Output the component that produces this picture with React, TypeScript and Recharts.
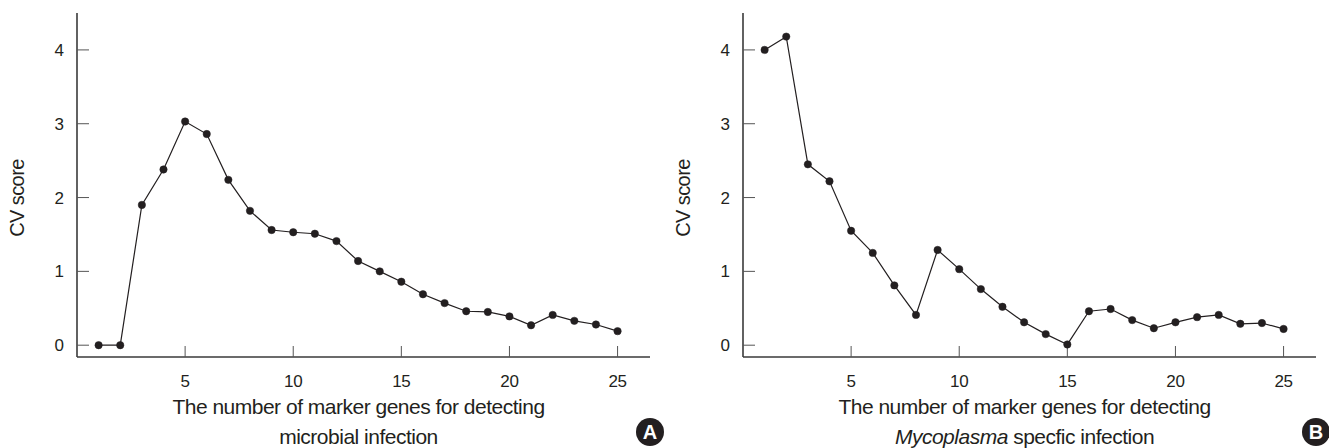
import React from 'react';
import { LineChart, Line, XAxis, YAxis, Label } from 'recharts';

const markerCounts = [1, 2, 3, 4, 5, 6, 7, 8, 9, 10, 11, 12, 13, 14, 15, 16, 17, 18, 19, 20, 21, 22, 23, 24, 25];
const microbialScores = [0, 0, 1.9, 2.38, 3.03, 2.86, 2.24, 1.82, 1.56, 1.53, 1.51, 1.41, 1.14, 1.0, 0.86, 0.69, 0.57, 0.46, 0.45, 0.39, 0.27, 0.41, 0.33, 0.28, 0.19];
const mycoplasmaScores = [4.0, 4.18, 2.45, 2.22, 1.55, 1.25, 0.81, 0.41, 1.29, 1.03, 0.76, 0.52, 0.31, 0.15, 0.01, 0.46, 0.49, 0.34, 0.23, 0.31, 0.38, 0.41, 0.29, 0.3, 0.22];
const xTicks = [5, 10, 15, 20, 25];
const yTicks = [0, 1, 2, 3, 4];
const yAxisTitle = 'CV score';
const xTitleLine1 = 'The number of marker genes for detecting';

const FONT = '"Liberation Sans", Arial, Helvetica, sans-serif';
const INK = '#231f20';

type PanelProps = {
  values: number[];
  line2: React.ReactNode;
  badge: string;
};

function Panel({ values, line2, badge }: PanelProps) {
  const data = markerCounts.map((n, i) => ({ n, cv: values[i] }));
  return (
    <div style={{ position: 'relative', width: 665, height: 448 }}>
      <LineChart width={665} height={448} data={data} margin={{ top: 13, right: 15, left: 0, bottom: 0 }}>
        <XAxis
          dataKey="n"
          type="number"
          domain={[0, 26.5]}
          ticks={xTicks}
          allowDataOverflow
          height={91}
          tickSize={-11}
          tickMargin={29}
          axisLine={{ stroke: '#3a3a3a', strokeWidth: 1.6 }}
          tickLine={{ stroke: '#555', strokeWidth: 1 }}
          tick={{ fill: INK, fontSize: 17, fontFamily: FONT, letterSpacing: -0.3 }}
        >
          <Label
            content={(props: any) => {
              const vb = props.viewBox || {};
              const cx = vb.x + vb.width / 2 - 5;
              return (
                <g>
                  <text x={cx} y={vb.y + 57} textAnchor="middle" fill={INK} fontSize={21} letterSpacing={-0.5} fontFamily={FONT}>
                    {xTitleLine1}
                  </text>
                  <text x={cx} y={vb.y + 87} textAnchor="middle" fill={INK} fontSize={21} letterSpacing={-0.5} fontFamily={FONT}>
                    {line2}
                  </text>
                </g>
              );
            }}
          />
        </XAxis>
        <YAxis
          type="number"
          domain={[-0.16, 4.5]}
          ticks={yTicks}
          allowDataOverflow
          width={77}
          tickSize={-12}
          tickMargin={25}
          axisLine={{ stroke: '#3a3a3a', strokeWidth: 1.6 }}
          tickLine={{ stroke: '#555', strokeWidth: 1 }}
          tick={{ fill: INK, fontSize: 17, fontFamily: FONT }}
        >
          <Label
            content={(props: any) => {
              const vb = props.viewBox || {};
              const bx = vb.x + 24;
              const cy = vb.y + vb.height / 2 + 13;
              return (
                <text
                  x={bx}
                  y={cy}
                  textAnchor="middle"
                  fill={INK}
                  fontSize={20}
                  letterSpacing={-0.6}
                  fontFamily={FONT}
                  transform={`rotate(-90, ${bx}, ${cy})`}
                >
                  {yAxisTitle}
                </text>
              );
            }}
          />
        </YAxis>
        <Line
          type="linear"
          dataKey="cv"
          stroke={INK}
          strokeWidth={1.2}
          dot={{ r: 3.7, fill: INK, stroke: INK, strokeWidth: 0.5 }}
          activeDot={false}
          isAnimationActive={false}
        />
      </LineChart>
      <div
        style={{
          position: 'absolute',
          left: 636,
          top: 418,
          width: 28,
          height: 28,
          borderRadius: 14,
          background: INK,
          color: '#fff',
          fontFamily: FONT,
          fontWeight: 'bold',
          fontSize: 20,
          lineHeight: '28px',
          textAlign: 'center',
        }}
      >
        {badge}
      </div>
    </div>
  );
}

export default function App() {
  return (
    <div style={{ position: 'absolute', left: 0, top: 0, width: 1329, height: 448, background: '#fff', overflow: 'hidden' }}>
      <div style={{ position: 'absolute', left: 0, top: 0 }}>
        <Panel values={microbialScores} line2="microbial infection" badge="A" />
      </div>
      <div style={{ position: 'absolute', left: 666, top: 0 }}>
        <Panel
          values={mycoplasmaScores}
          line2={
            <>
              <tspan fontStyle="italic">Mycoplasma</tspan>
              <tspan> specfic infection</tspan>
            </>
          }
          badge="B"
        />
      </div>
    </div>
  );
}
